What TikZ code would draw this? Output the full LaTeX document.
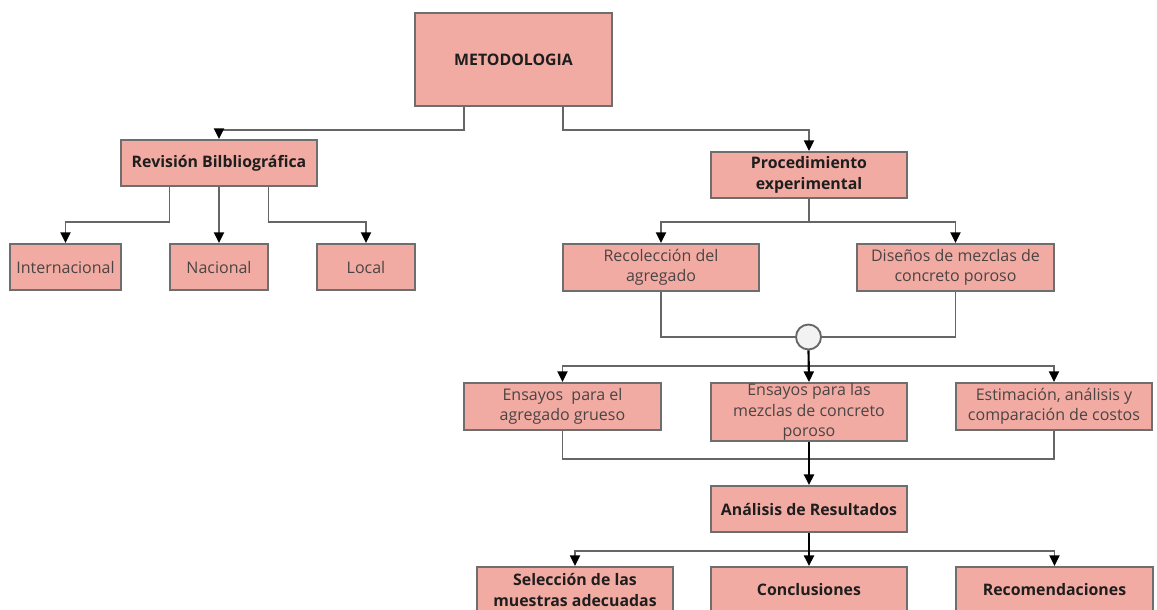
\documentclass[tikz,border=0pt]{standalone}
\usepackage{fontspec}
\setmainfont{Open Sans}
\usetikzlibrary{arrows.meta,calc}
\definecolor{boxfill}{HTML}{F2ABA2}
\definecolor{boxline}{HTML}{6E6E6E}
\definecolor{txt}{HTML}{4A4444}
\definecolor{btxt}{HTML}{1E1E1E}
\definecolor{lnc}{HTML}{666666}
\definecolor{jfill}{HTML}{F2F2F2}
\begin{document}
\begin{tikzpicture}[x=0.75pt,y=-0.75pt,
  sz/.style 2 args={minimum width=#1*0.75pt, minimum height=#2*0.75pt},
  box/.style={draw=boxline, fill=boxfill, line width=1.4pt, inner sep=0pt, align=center, text=txt, font=\fontsize{12}{15.3}\selectfont},
  bbox/.style={box, text=btxt, font=\fontsize{11.9}{15.3}\selectfont\bfseries},
  plain/.style={draw=lnc, line width=1.4pt},
  conn/.style={plain, -{Triangle[width=7.5pt,length=8pt,color=black]}},
  bconn/.style={draw=black, line width=1.6pt, -{Triangle[width=7.5pt,length=8pt,color=black]}}
]
\useasboundingbox (0,0) rectangle (1157,610);
\clip (0,0) rectangle (1157,610);
\fill[white] (0,0) rectangle (1157,610);

\node[bbox, sz={197}{93}] (met) at (513.5,59.5) {METODOLOGIA};
\node[bbox, sz={196}{46}] (rev) at (219,163) {Revisión Bilbliográfica};
\node[box, sz={111}{46}] (int) at (65.5,267) {Internacional};
\node[box, sz={98}{46}] (nac) at (219,267) {Nacional};
\node[box, sz={98}{46}] (loc) at (366,267) {Local};
\node[bbox, sz={196}{46}] (proc) at (809,175) {Procedimiento\\experimental};
\node[box, sz={196}{47}] (rec) at (661,267.5) {Recolección del\\agregado};
\node[box, sz={197}{47}] (dis) at (955.5,267.5) {Diseños de mezclas de\\concreto poroso};
\node[draw=lnc, fill=jfill, line width=1.4pt, circle, minimum size=25*0.75pt, inner sep=0pt] (jn) at (808.5,337) {};
\node[box, sz={197}{47}] (ens1) at (562.5,406.5) {Ensayos\ \ para el\\agregado grueso};
\node[box, sz={196}{58}] (ens2) at (809,412) {Ensayos para las\\mezclas de concreto\\poroso};
\node[box, sz={196}{47}] (est) at (1054,406.5) {Estimación, análisis y\\comparación de costos};
\node[bbox, sz={196}{46}] (ana) at (809,509) {Análisis de Resultados};
\node[bbox, sz={196}{46}] (sel) at (575,590) {Selección de las\\muestras adecuadas};
\node[bbox, sz={196}{46}] (con) at (809,590) {Conclusiones};
\node[bbox, sz={197}{46}] (recom) at (1054.5,590) {Recomendaciones};

% METODOLOGIA
\draw[conn] ($(met.south)!0.5!(met.south west)$) -- ++(0,23) -| (rev.north);
\draw[conn] ($(met.south)!0.5!(met.south east)$) -- ++(0,23) -| (proc.north);
% Revision
\draw[conn] ($(rev.south)!0.5!(rev.south west)$) -- ++(0,35) -| (int.north);
\draw[conn] (rev.south) -- (nac.north);
\draw[conn] ($(rev.south)!0.5!(rev.south east)$) -- ++(0,35) -| (loc.north);
% Procedimiento
\draw[conn] (proc.south) -- ++(0,23) -| (rec.north);
\draw[conn] (proc.south) ++(0,23) -| (dis.north);
% junction
\draw[plain] (rec.south) |- (jn.west);
\draw[plain] (dis.south) |- (jn.east);
\draw[conn] ($(jn.south)+(0,15.5)$) -| (ens1.north);
\draw[conn] ($(jn.south)+(0,15.5)$) -| (est.north);
\draw[bconn] (jn.south) -- (ens2.north);
% to analysis
\draw[plain] (ens1.south) -- ++(0,28) -| (est.south);
\draw[bconn] (ens2.south) -- (ana.north);
% analysis children
\draw[conn] (ana.south) ++(0,18) -| (sel.north);
\draw[conn] (ana.south) ++(0,18) -| (recom.north);
\draw[bconn] (ana.south) -- (con.north);
\end{tikzpicture}
\end{document}
